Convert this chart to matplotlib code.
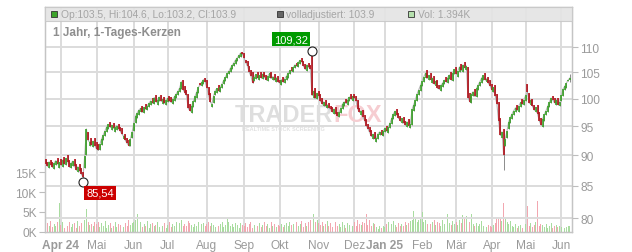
import numpy as np
import matplotlib.pyplot as plt
from matplotlib.patches import Rectangle

plt.rcParams['font.family'] = ['Liberation Sans', 'DejaVu Sans']

# daily candles, one list per month (Mar 2024 ... Jun 2025), trading days only
close_mar24 = [88.6, 88.2, 88.9, 88.4, 88.0, 88.7, 89.1, 88.5, 88.8]
open_mar24 = [89.3, 88.9, 87.9, 89.2, 88.9, 87.7, 88.4, 89.5, 87.9]
close_apr24 = [88.3, 89.2, 88.6, 89.5, 88.9, 88.1, 88.7, 89.0, 88.2, 87.6, 88.1,
               87.4, 86.9, 86.4, 89.8, 94.5, 92.5, 92.2, 91.8, 92.4, 91.6]
open_apr24 = [89.4, 88.1, 89.7, 88.3, 90.0, 89.2, 87.8, 88.2, 89.3, 88.6, 87.3,
              88.6, 87.9, 87.2, 87.8, 90.0, 94.0, 91.5, 93.0, 91.4, 92.9]
close_may24 = [91.0, 90.8, 91.9, 92.8, 93.5, 94.2, 94.9, 95.3, 94.8, 95.2, 94.6,
               94.9, 95.1, 94.5, 94.1, 93.6, 93.2, 92.5, 92.0, 91.6, 92.8, 94.0]
open_may24 = [92.2, 91.9, 90.9, 91.8, 92.6, 93.3, 94.0, 94.5, 95.8, 94.3, 95.6,
              94.0, 94.4, 95.4, 94.9, 94.6, 92.7, 93.6, 92.9, 92.5, 91.5, 92.9]
close_jun24 = [95.5, 96.8, 97.4, 97.9, 98.2, 97.6, 98.4, 98.0, 98.7, 99.2,
               99.6, 99.1, 100.2, 99.4, 99.8, 100.3, 99.5, 99.9, 99.2, 99.7]
open_jun24 = [94.2, 95.6, 96.5, 97.0, 97.5, 98.7, 97.4, 99.0, 97.9, 98.5,
              98.9, 100.2, 99.0, 100.6, 98.9, 99.6, 100.6, 99.0, 100.3, 98.9]
close_jul24 = [100.1, 99.6, 99.3, 99.9, 100.4, 100.9, 101.4, 102.0, 103.2, 101.7, 101.1, 100.6,
               98.2, 97.8, 98.6, 99.5, 100.4, 101.2, 102.1, 102.6, 103.1, 103.6, 103.2]
open_jul24 = [99.4, 100.5, 100.3, 99.0, 99.6, 100.1, 100.7, 101.2, 101.8, 103.6, 102.3, 101.6,
              100.9, 99.0, 97.3, 98.5, 99.4, 100.2, 101.0, 102.9, 102.4, 102.8, 104.0]
close_aug24 = [102.0, 100.6, 99.4, 99.0, 100.5, 101.5, 101.9, 101.4, 102.2, 102.8, 103.5,
               104.1, 104.8, 105.2, 105.9, 106.4, 106.9, 107.5, 107.9, 108.4, 108.9, 108.6]
open_aug24 = [103.5, 102.1, 101.0, 98.5, 99.2, 100.6, 101.1, 102.5, 101.3, 102.0, 102.8,
              103.3, 104.0, 104.6, 105.0, 105.7, 106.2, 106.7, 107.2, 107.8, 108.1, 109.0]
close_sep24 = [107.8, 106.9, 106.2, 105.0, 104.3, 103.0, 104.2, 104.6, 103.9, 104.4, 104.0,
               104.7, 104.1, 103.6, 104.3, 104.8, 103.9, 104.2, 103.5, 104.0, 103.2]
open_sep24 = [108.8, 107.4, 107.2, 106.3, 105.4, 105.0, 103.3, 103.8, 105.0, 103.5, 105.0,
              103.7, 105.0, 104.4, 103.3, 104.0, 105.0, 103.5, 104.6, 103.1, 104.3]
close_oct24 = [102.9, 103.6, 103.1, 103.8, 104.3, 104.9, 105.4, 105.2, 106.0, 106.5, 106.2, 107.0,
               107.4, 107.1, 106.3, 105.6, 106.5, 106.0, 105.7, 100.6, 101.4, 100.2, 101.0]
open_oct24 = [103.6, 102.6, 104.2, 102.9, 103.5, 104.0, 104.6, 106.0, 105.0, 105.8, 106.9, 106.0,
              106.6, 107.9, 107.3, 106.6, 105.3, 106.8, 106.4, 108.8, 100.2, 101.9, 99.9]
close_nov24 = [100.5, 99.6, 99.0, 99.4, 98.6, 98.9, 98.3, 98.0, 97.6, 98.1, 97.2,
               96.9, 97.5, 98.2, 99.0, 99.4, 99.1, 99.8, 100.3, 100.0, 100.4]
open_nov24 = [101.5, 100.8, 100.1, 98.6, 99.7, 98.2, 99.2, 98.6, 98.4, 97.2, 98.4,
              97.6, 96.6, 97.3, 98.0, 98.6, 99.9, 98.9, 99.5, 100.8, 99.6]
close_dec24 = [100.2, 99.5, 98.0, 97.5, 97.8, 96.6, 96.0, 95.1, 94.5,
               93.9, 93.2, 93.6, 92.8, 92.9, 93.7, 94.0, 93.5, 94.2]
open_dec24 = [100.9, 100.4, 99.8, 98.3, 97.0, 97.9, 97.0, 96.2, 95.4,
              94.8, 94.3, 92.8, 93.9, 92.3, 92.8, 93.4, 94.3, 93.3]
close_jan25 = [94.6, 94.1, 94.8, 95.5, 96.4, 97.2, 97.7, 97.0, 96.5, 96.0, 96.4,
               95.6, 95.2, 95.8, 95.1, 95.4, 98.0, 98.9, 99.8, 100.9, 101.7, 102.5]
open_jan25 = [93.9, 95.0, 93.8, 94.6, 95.4, 96.3, 96.8, 98.0, 97.4, 96.8, 95.6,
              96.6, 96.0, 94.9, 96.2, 94.6, 95.2, 97.8, 98.7, 99.6, 100.6, 101.5]
close_feb25 = [103.4, 104.2, 104.9, 104.0, 104.4, 103.6, 103.9, 102.8, 103.3, 102.0,
               101.8, 102.5, 102.9, 103.5, 103.2, 104.0, 104.5, 103.6, 104.8, 105.6]
open_feb25 = [102.3, 103.2, 104.0, 105.5, 103.5, 104.8, 103.0, 104.3, 102.4, 103.6,
              102.6, 101.5, 102.2, 102.7, 104.1, 103.0, 103.8, 105.0, 103.4, 104.6]
close_mar25 = [104.7, 105.3, 106.1, 105.4, 106.5, 105.9, 106.3, 100.2, 99.4, 100.8, 101.3,
               100.4, 101.9, 102.6, 103.2, 103.9, 104.4, 103.6, 103.8, 102.9, 102.4]
open_mar25 = [106.0, 104.2, 105.1, 106.6, 105.0, 107.0, 105.5, 106.0, 101.0, 99.2, 100.4,
              101.8, 100.3, 101.6, 102.4, 103.0, 103.6, 104.8, 103.2, 104.1, 103.5]
close_apr25 = [101.6, 102.1, 100.5, 99.0, 96.0, 93.4, 94.0, 90.0, 92.8, 94.2,
               95.8, 96.6, 97.2, 97.8, 98.3, 97.9, 98.7, 99.3, 99.0, 99.8]
open_apr25 = [102.8, 101.2, 102.6, 100.8, 99.3, 96.5, 92.9, 94.5, 91.5, 93.0,
              94.5, 95.6, 96.3, 97.0, 97.5, 98.8, 97.6, 98.4, 99.9, 98.9]
close_may25 = [100.6, 101.2, 99.2, 99.8, 98.6, 97.9, 98.4, 97.2, 96.0, 95.2, 96.3,
               97.1, 97.8, 98.6, 99.4, 100.1, 99.7, 99.2, 99.8, 98.9, 99.3]
open_may25 = [99.6, 102.8, 101.0, 98.9, 100.0, 98.8, 97.6, 98.9, 97.5, 96.4, 94.8,
              95.9, 97.0, 97.6, 98.4, 99.2, 100.5, 100.2, 98.9, 100.1, 98.7]
close_jun25 = [100.6, 101.8, 102.3, 102.9, 103.5, 103.9]
open_jun25 = [99.5, 100.4, 101.6, 102.0, 103.4, 103.5]

# volume in thousands, same day order
vol_mar24 = [4.0, 2.2, 1.5, 2.8, 1.2, 2.0, 1.6, 2.5, 7.2]
vol_apr24 = [1.8, 2.4, 1.1, 2.0, 1.5, 2.6, 1.3, 1.9, 2.2, 1.0, 2.7,
             1.6, 2.3, 2.9, 3.1, 5.7, 2.4, 1.8, 2.1, 1.4, 2.5]
vol_may24 = [1.9, 2.6, 1.2, 2.2, 1.5, 2.8, 1.1, 1.7, 2.3, 0.9, 1.6,
             2.4, 1.3, 2.0, 1.8, 2.6, 1.2, 2.2, 1.5, 2.9, 1.7, 2.3]
vol_jun24 = [2.6, 2.9, 4.5, 1.8, 2.4, 1.3, 2.0, 1.6, 2.7, 1.1,
             1.9, 2.3, 1.4, 1.8, 2.5, 1.2, 2.1, 1.6, 2.2, 1.0]
vol_jul24 = [1.7, 2.4, 1.3, 2.0, 1.5, 2.6, 1.8, 2.2, 2.9, 1.6, 2.1, 1.4,
             2.8, 2.3, 1.7, 1.2, 2.0, 1.5, 2.4, 1.1, 1.9, 2.2, 1.6]
vol_aug24 = [2.0, 2.5, 1.4, 2.2, 1.7, 1.3, 2.1, 1.6, 1.9, 2.4, 1.2,
             1.8, 3.2, 2.6, 1.5, 2.0, 1.3, 2.2, 1.7, 1.1, 2.3, 1.8]
vol_sep24 = [1.6, 2.2, 1.3, 1.9, 2.5, 1.1, 1.7, 2.0, 1.4, 2.3, 1.2,
             1.8, 2.6, 1.5, 1.9, 1.1, 2.4, 1.6, 2.0, 1.3, 1.8]
vol_oct24 = [1.5, 2.1, 1.2, 1.8, 2.3, 1.4, 2.6, 1.7, 2.0, 1.1, 2.4, 1.6,
             1.9, 2.8, 1.3, 2.2, 1.5, 2.5, 2.9, 13.7, 4.5, 2.6, 3.0]
vol_nov24 = [2.2, 1.7, 2.5, 1.4, 2.0, 2.8, 1.6, 2.3, 1.2, 1.9, 2.4,
             1.5, 2.1, 1.3, 2.6, 1.8, 1.1, 2.2, 1.7, 2.0, 1.4]
vol_dec24 = [2.4, 1.6, 2.9, 2.1, 1.8, 2.5, 2.2, 4.5, 1.7,
             3.0, 1.4, 2.3, 1.9, 1.2, 0.8, 1.5, 1.1, 1.6]
vol_jan25 = [1.3, 1.9, 2.4, 1.5, 2.1, 2.7, 1.8, 1.2, 2.3, 1.6, 2.0,
             1.4, 2.5, 1.7, 2.2, 2.8, 3.1, 5.2, 3.6, 2.4, 2.9, 3.3]
vol_feb25 = [5.0, 2.6, 3.1, 2.0, 2.7, 1.9, 2.4, 3.0, 1.8, 2.5,
             2.2, 1.6, 2.9, 2.1, 2.6, 4.5, 2.3, 1.7, 2.8, 2.0]
vol_mar25 = [2.4, 1.8, 3.0, 2.2, 4.3, 3.2, 4.1, 4.3, 2.6, 4.5, 2.0,
             1.6, 2.3, 1.4, 1.9, 2.7, 1.5, 2.1, 1.2, 1.8, 1.5]
vol_apr25 = [1.3, 1.7, 2.2, 3.4, 3.5, 3.3, 2.8, 7.2, 3.6, 2.5,
             1.9, 2.7, 1.6, 1.3, 2.1, 1.1, 1.5, 1.8, 0.9, 1.4]
vol_may25 = [2.0, 6.5, 1.6, 2.3, 1.2, 1.8, 2.5, 7.8, 1.4, 2.1, 1.7,
             1.3, 1.9, 1.1, 1.6, 2.2, 1.0, 1.5, 1.8, 1.2, 1.4]
vol_jun25 = [1.2, 1.6, 1.0, 1.3, 1.5, 1.394]

wick_highs = {157: 109.32, 309: 104.6}
wick_lows = {22: 85.54, 270: 87.6, 309: 103.2}

# first trading day of each month (index) and labels
month_idx = [9, 30, 52, 72, 95, 117, 138, 161, 182, 200, 222, 242, 263, 283, 304]
month_labels = ['Apr 24', 'Mai', 'Jun', 'Jul', 'Aug', 'Sep', 'Okt', 'Nov', 'Dez',
                'Jan 25', 'Feb', 'Mär', 'Apr', 'Mai', 'Jun']
price_ticks = [80, 85, 90, 95, 100, 105, 110]
vol_ticks = [0, 5, 10, 15]

closes = np.array(close_mar24 + close_apr24 + close_may24 + close_jun24 + close_jul24 +
                  close_aug24 + close_sep24 + close_oct24 + close_nov24 + close_dec24 +
                  close_jan25 + close_feb25 + close_mar25 + close_apr25 + close_may25 + close_jun25)
opens = np.array(open_mar24 + open_apr24 + open_may24 + open_jun24 + open_jul24 +
                 open_aug24 + open_sep24 + open_oct24 + open_nov24 + open_dec24 +
                 open_jan25 + open_feb25 + open_mar25 + open_apr25 + open_may25 + open_jun25)
vols = np.array(vol_mar24 + vol_apr24 + vol_may24 + vol_jun24 + vol_jul24 + vol_aug24 +
                vol_sep24 + vol_oct24 + vol_nov24 + vol_dec24 + vol_jan25 + vol_feb25 +
                vol_mar25 + vol_apr25 + vol_may25 + vol_jun25)
n = len(closes)
x = np.arange(n)

highs = np.maximum(opens, closes)
lows = np.minimum(opens, closes)
for i, v in wick_highs.items():
    highs[i] = v
for i, v in wick_lows.items():
    lows[i] = v
up = closes >= opens

GREEN = '#3ca32a'
RED = '#b5121b'
TXT = '#9a9a9a'
GRID = '#dcdcdc'

fig = plt.figure(figsize=(6.32, 2.53), dpi=100)
rect = [45 / 632, 20 / 253, 527 / 632, 225 / 253]
axv = fig.add_axes(rect)
ax = axv.twinx()

# volume
vcol = ['#a9dca0' if u else '#f2a7b0' for u in up]
axv.bar(x, vols, width=0.55, color=vcol, linewidth=0, zorder=2)
axv.set_ylim(0, 56.25)
axv.set_yticks(vol_ticks)
axv.set_yticklabels([f'{v}K' for v in vol_ticks])
axv.set_xlim(-0.4, 310.3)
axv.set_xticks(month_idx)
axv.set_xticklabels(month_labels)
for lab in axv.get_xticklabels():
    if lab.get_text() in ('Apr 24', 'Jan 25'):
        lab.set_fontweight('bold')
        lab.set_color('#8a8a8a')
axv.xaxis.grid(True, color=GRID, lw=1.4)
axv.set_axisbelow(True)
axv.tick_params(axis='x', length=0, pad=5, labelsize=8.6, labelcolor=TXT)
axv.tick_params(axis='y', length=4, width=0.8, color='#bdbdbd', pad=2, labelsize=8.6, labelcolor=TXT)

# price
ax.set_yscale('log')
ax.set_ylim(78.0, 118.6)
ax.set_yticks(price_ticks)
ax.set_yticklabels([str(t) for t in price_ticks])
ax.yaxis.set_minor_locator(plt.NullLocator())
ax.yaxis.grid(True, color=GRID, lw=1.4, zorder=0)
ax.set_axisbelow(True)
ax.tick_params(axis='y', length=4, width=0.8, color='#bdbdbd', pad=2, labelsize=8.6, labelcolor=TXT)

ax.plot(x, closes, color='#b8b8b8', lw=0.8, zorder=2.5)
ax.vlines(x, lows, highs, color='#8c8c8c', lw=0.7, zorder=3)
ax.vlines(x, np.minimum(opens, closes), np.maximum(opens, closes),
          color=[GREEN if u else RED for u in up], lw=1.2, zorder=4)

for a in (ax, axv):
    for s in a.spines.values():
        s.set_color('#c4c4c4')
        s.set_linewidth(0.9)

# watermark
ax.text(0.5465, 0.522, 'TRADER', transform=ax.transAxes, ha='right', va='center',
        fontsize=17, fontweight='bold', color='#dedede', zorder=1)
ax.text(0.5465, 0.522, 'FOX', transform=ax.transAxes, ha='left', va='center',
        fontsize=17, fontweight='bold', color='#f6cdd1', zorder=1)
ax.text(0.4526, 0.462, 'REALTIME STOCK SCREENING', transform=ax.transAxes, ha='center',
        va='center', fontsize=4, fontweight='bold', color='#e0e0e0', zorder=1)

# high / low markers
hi_i = 157
lo_i = 22
ax.plot([hi_i, lo_i], [highs[hi_i], lows[lo_i]], 'o', ms=6.5, mfc='white', mec='#222222',
        mew=0.8, zorder=6)
ax.annotate(f'{highs[hi_i]:.2f}'.replace('.', ','), xy=(hi_i, highs[hi_i]), xytext=(-15.3, 8.4),
            textcoords='offset points', ha='center', va='center', color='white', fontsize=8,
            bbox=dict(boxstyle='square,pad=0.18', fc='#009a00', ec='none'), zorder=7)
ax.annotate(f'{lows[lo_i]:.2f}'.replace('.', ','), xy=(lo_i, lows[lo_i]), xytext=(12.4, -7.5),
            textcoords='offset points', ha='center', va='center', color='white', fontsize=8,
            bbox=dict(boxstyle='square,pad=0.18', fc='#cc0000', ec='none'), zorder=7)

# legend bar
h = 14 / 225
ax.add_patch(Rectangle((0, 1 - h), 1, h, transform=ax.transAxes, fc='#e4e4e4', ec='#c8c8c8',
                       lw=0.8, alpha=0.9, zorder=8, clip_on=False))
ly = 1 - h / 2
legend_items = [
    (54, GREEN, f'Op:{opens[-1]:.1f}, Hi:{highs[-1]:.1f}, Lo:{lows[-1]:.1f}, Cl:{closes[-1]:.1f}'),
    (279.5, '#666666', f'volladjustiert: {closes[-1]:.1f}'),
    (410.5, '#b5e0ad', f'Vol: {vols[-1]:.3f}K'),
]
for px, col, txt in legend_items:
    xf = (px - 45) / 527
    ax.plot([xf], [ly], 's', transform=ax.transAxes, ms=4.6, mfc=col, mec='#333333', mew=0.6,
            zorder=9, clip_on=False)
    ax.text(xf + 7 / 527, ly, txt, transform=ax.transAxes, ha='left', va='center',
            fontsize=7.4, color='#a5a5a5', zorder=9)

ax.text(8 / 527, (233 - 33) / 225, '1 Jahr, 1-Tages-Kerzen', transform=ax.transAxes,
        ha='left', va='center', fontsize=8.5, fontweight='bold', color='#8e8e8e', zorder=9)

fig.savefig('out.png', dpi=100)
